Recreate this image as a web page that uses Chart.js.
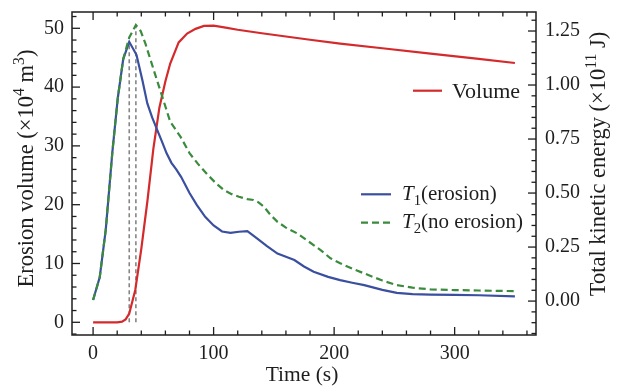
<!DOCTYPE html>
<html><head><meta charset="utf-8">
<script src="https://cdn.jsdelivr.net/npm/chart.js@4.4.1/dist/chart.umd.min.js"></script>
<style>html,body{margin:0;padding:0;background:#fff}canvas{display:block}</style>
</head><body>
<canvas id="c" width="617" height="387"></canvas>
<script>
// ---- data ----
const volumeTime   = [0, 10, 20, 24, 27, 30, 35, 40, 45, 50, 55, 60, 64, 71, 78, 85, 92, 100, 110, 120, 140, 160, 180, 205, 240, 280, 320, 350];
const volumeValues = [0, 0, 0, 0.1, 0.5, 1.5, 5.5, 12.5, 20.5, 29.5, 36.5, 41.0, 44.0, 47.6, 49.1, 49.9, 50.4, 50.45, 50.1, 49.75, 49.15, 48.6, 48.05, 47.4, 46.6, 45.7, 44.8, 44.1];

const t1Time   = [0, 5.5, 10.5, 16, 20.5, 25, 30, 36, 41, 45, 49, 53, 57, 61, 65, 69, 73, 80, 86, 93, 100, 107, 114, 121, 128, 136, 144, 153, 160, 167, 175, 183, 195, 205, 215, 225, 240, 252, 265, 280, 300, 320, 350];
const t1Values = [0.005, 0.11, 0.33, 0.69, 0.94, 1.12, 1.20, 1.14, 1.02, 0.915, 0.85, 0.795, 0.74, 0.684, 0.64, 0.61, 0.575, 0.50, 0.445, 0.39, 0.35, 0.322, 0.316, 0.321, 0.324, 0.29, 0.255, 0.22, 0.205, 0.19, 0.16, 0.136, 0.112, 0.097, 0.085, 0.074, 0.052, 0.038, 0.032, 0.030, 0.029, 0.027, 0.022];

const t2Time   = [0, 5.5, 10.5, 16, 20.5, 25, 30, 35.5, 39.5, 43.5, 47.7, 52, 57.4, 64, 72.6, 80, 87, 95, 102, 108.5, 115, 121, 128, 133, 137, 141.7, 147, 153, 160, 169.5, 179, 188.8, 197, 205, 215, 225, 240, 252, 265, 280, 300, 320, 350];
const t2Values = [0.005, 0.11, 0.33, 0.69, 0.94, 1.12, 1.22, 1.278, 1.25, 1.19, 1.116, 1.04, 0.946, 0.83, 0.76, 0.685, 0.635, 0.585, 0.545, 0.514, 0.495, 0.483, 0.472, 0.468, 0.458, 0.437, 0.40, 0.367, 0.34, 0.313, 0.275, 0.236, 0.198, 0.175, 0.15, 0.128, 0.095, 0.074, 0.062, 0.054, 0.051, 0.049, 0.046];

const xTickValues  = [0, 100, 200, 300];
const yTickValues  = [0, 10, 20, 30, 40, 50];
const y2TickValues = [0, 0.25, 0.5, 0.75, 1.0, 1.25];
const y2TickLabels = ['0.00', '0.25', '0.50', '0.75', '1.00', '1.25'];

const seriesLabels = ['Volume', 'T1(erosion)', 'T2(no erosion)'];

// ---- style ----
const FONT = '"Liberation Serif", "Times New Roman", serif';
const INK = '#1e1e1e';
const RED = '#d42a2c', BLUE = '#3a4f9f', GREEN = '#3b8b3e';
const TICK_FONT = 20, TITLE_FONT = 22.5, XTITLE_FONT = 21.5, LEGEND_FONT = 22;

Chart.defaults.font.family = FONT;

function pts(xs, ys) { return xs.map((x, i) => ({ x: x, y: ys[i] })); }

function segFont(s, size) {
  const sz = (s.sup || s.sub) ? size * 0.7 : size;
  return (s.it ? 'italic ' : '') + sz + 'px ' + FONT;
}
function richWidth(ctx, segs, size) {
  let w = 0;
  for (const s of segs) { ctx.font = segFont(s, size); w += ctx.measureText(s.t).width; }
  return w;
}
function drawRich(ctx, segs, x, y, size, align) {
  let cx = x;
  if (align === 'center') cx = x - richWidth(ctx, segs, size) / 2;
  ctx.textBaseline = 'alphabetic';
  ctx.textAlign = 'left';
  for (const s of segs) {
    ctx.font = segFont(s, size);
    let dy = 0;
    if (s.sup) dy = -size * 0.38;
    if (s.sub) dy = size * 0.22;
    ctx.fillText(s.t, cx, y + dy);
    cx += ctx.measureText(s.t).width;
  }
}

const decorPlugin = {
  id: 'decor',
  beforeDatasetsDraw(chart) {
    const ctx = chart.ctx, xs = chart.scales.x, ys = chart.scales.y, y2 = chart.scales.y2;
    ctx.save();
    ctx.strokeStyle = '#858585';
    ctx.lineWidth = 1.6;
    ctx.setLineDash([4, 3]);
    for (const [tt, vv] of [[t1Time, t1Values], [t2Time, t2Values]]) {
      let k = 0;
      vv.forEach((v, i) => { if (v > vv[k]) k = i; });
      const px = xs.getPixelForValue(tt[k]);
      ctx.beginPath();
      ctx.moveTo(px, ys.getPixelForValue(0));
      ctx.lineTo(px, y2.getPixelForValue(vv[k]));
      ctx.stroke();
    }
    ctx.restore();
  },
  afterDraw(chart) {
    const ctx = chart.ctx, a = chart.chartArea;
    const xs = chart.scales.x, ys = chart.scales.y, y2 = chart.scales.y2;
    ctx.save();
    ctx.strokeStyle = INK;
    ctx.lineWidth = 1.5;
    ctx.setLineDash([]);
    ctx.strokeRect(a.left, a.top, a.right - a.left, a.bottom - a.top);
    ctx.lineWidth = 1.3;
    const MAJ = 8, MIN = 4.5;
    // x ticks (bottom + top), minor every 20
    for (let v = 0; v <= xs.max + 1e-9; v += 20) {
      const px = xs.getPixelForValue(v);
      const len = (Math.abs(v % 100) < 1e-9) ? MAJ : MIN;
      ctx.beginPath();
      ctx.moveTo(px, a.bottom); ctx.lineTo(px, a.bottom - len);
      ctx.moveTo(px, a.top); ctx.lineTo(px, a.top + len);
      ctx.stroke();
    }
    // left ticks, minor every 2
    for (let v = -2; v <= ys.max + 1e-9; v += 2) {
      const py = ys.getPixelForValue(v);
      if (py > a.bottom - 0.5) continue;
      const len = (Math.abs(v % 10) < 1e-9) ? MAJ : MIN;
      ctx.beginPath(); ctx.moveTo(a.left, py); ctx.lineTo(a.left + len, py); ctx.stroke();
    }
    // right ticks, minor every 0.05
    for (let i = -3; i * 0.05 <= y2.max + 1e-9; i++) {
      const v = i * 0.05;
      const py = y2.getPixelForValue(v);
      if (py > a.bottom - 0.5) continue;
      const len = (i % 5 === 0) ? MAJ : MIN;
      ctx.beginPath(); ctx.moveTo(a.right, py); ctx.lineTo(a.right - len, py); ctx.stroke();
    }

    // axis titles
    ctx.fillStyle = INK;
    ctx.save();
    ctx.translate(33, 168.5);
    ctx.rotate(-Math.PI / 2);
    drawRich(ctx, [{ t: 'Erosion volume (×10' }, { t: '4', sup: 1 }, { t: ' m' }, { t: '3', sup: 1 }, { t: ')' }], 0, 0, TITLE_FONT, 'center');
    ctx.restore();
    ctx.save();
    ctx.translate(605, 164);
    ctx.rotate(-Math.PI / 2);
    drawRich(ctx, [{ t: 'Total kinetic energy (×10' }, { t: '11', sup: 1 }, { t: ' J)' }], 0, 0, TITLE_FONT, 'center');
    ctx.restore();
    drawRich(ctx, [{ t: 'Time (s)' }], 302, 381, XTITLE_FONT, 'center');

    // legends
    ctx.lineWidth = 2.2;
    ctx.strokeStyle = RED;
    ctx.beginPath(); ctx.moveTo(413, 90.7); ctx.lineTo(442, 90.7); ctx.stroke();
    drawRich(ctx, [{ t: seriesLabels[0] }], 452, 97.5, LEGEND_FONT, 'left');
    ctx.strokeStyle = BLUE;
    ctx.beginPath(); ctx.moveTo(361, 194.3); ctx.lineTo(391, 194.3); ctx.stroke();
    drawRich(ctx, [{ t: 'T', it: 1 }, { t: '1', sub: 1 }, { t: '(erosion)' }], 402, 200, 21, 'left');
    ctx.strokeStyle = GREEN;
    ctx.setLineDash([7, 4]);
    ctx.beginPath(); ctx.moveTo(361, 222.7); ctx.lineTo(391, 222.7); ctx.stroke();
    ctx.setLineDash([]);
    drawRich(ctx, [{ t: 'T', it: 1 }, { t: '2', sub: 1 }, { t: '(no erosion)' }], 402, 228, 21, 'left');
    ctx.restore();
  }
};

const tickCommon = { font: { size: TICK_FONT, family: FONT }, color: INK, autoSkip: false, maxRotation: 0, minRotation: 0 };
function noPad(s) { s.paddingTop = 0; s.paddingBottom = 0; s.paddingLeft = 0; s.paddingRight = 0; }

new Chart(document.getElementById('c'), {
  type: 'line',
  data: {
    datasets: [
      { label: seriesLabels[0], data: pts(volumeTime, volumeValues), yAxisID: 'y', borderColor: RED, borderWidth: 2.2, pointRadius: 0, tension: 0, fill: false, order: 3 },
      { label: seriesLabels[1], data: pts(t1Time, t1Values), yAxisID: 'y2', borderColor: BLUE, borderWidth: 2.2, pointRadius: 0, tension: 0, fill: false, order: 2 },
      { label: seriesLabels[2], data: pts(t2Time, t2Values), yAxisID: 'y2', borderColor: GREEN, borderWidth: 2.2, borderDash: [7, 4], pointRadius: 0, tension: 0, fill: false, order: 1 }
    ]
  },
  options: {
    responsive: false,
    animation: false,
    devicePixelRatio: 1,
    layout: { padding: { top: 12, left: 0, right: 0, bottom: 0 } },
    plugins: { legend: { display: false }, title: { display: false }, tooltip: { enabled: false } },
    scales: {
      x: {
        type: 'linear', position: 'bottom', min: -17.5, max: 367.5,
        grid: { display: false, drawTicks: false }, border: { display: false },
        ticks: Object.assign({ padding: 7, callback: v => String(v) }, tickCommon),
        afterBuildTicks: s => { s.ticks = xTickValues.map(v => ({ value: v })); },
        afterFit: s => { s.height = 52; noPad(s); }
      },
      y: {
        type: 'linear', position: 'left', min: -2.16, max: 52.77,
        grid: { display: false, drawTicks: false }, border: { display: false },
        ticks: Object.assign({ padding: 8, callback: v => String(v) }, tickCommon),
        afterBuildTicks: s => { s.ticks = yTickValues.map(v => ({ value: v })); },
        afterFit: s => { s.width = 72; noPad(s); }
      },
      y2: {
        type: 'linear', position: 'right', min: -0.157, max: 1.338,
        grid: { display: false, drawTicks: false }, border: { display: false },
        ticks: Object.assign({ padding: 9, callback: (v, i) => y2TickLabels[i] }, tickCommon),
        afterBuildTicks: s => { s.ticks = y2TickValues.map(v => ({ value: v })); },
        afterFit: s => { s.width = 81; noPad(s); }
      }
    }
  },
  plugins: [decorPlugin]
});
</script>
</body></html>
